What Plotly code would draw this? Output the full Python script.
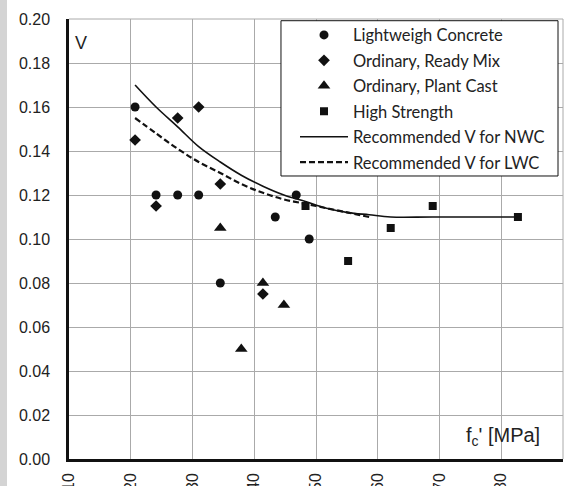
import plotly.graph_objects as go

# Data (f'c in MPa, V)
lw_x = [20.7, 24.1, 27.6, 31.0, 34.5, 43.4, 46.8, 48.9]
lw_y = [0.160, 0.120, 0.120, 0.120, 0.080, 0.110, 0.120, 0.100]

rm_x = [20.7, 24.1, 27.6, 31.0, 34.5, 41.4]
rm_y = [0.145, 0.115, 0.155, 0.160, 0.125, 0.075]

pc_x = [34.5, 37.9, 41.4, 44.8]
pc_y = [0.105, 0.050, 0.080, 0.070]

hs_x = [48.3, 55.2, 62.1, 68.9, 82.7]
hs_y = [0.115, 0.090, 0.105, 0.115, 0.110]

nwc_x = [20.7, 24.1, 27.6, 31.0, 34.5, 37.9, 41.4, 44.8, 48.3, 51.7, 55.2, 58.6, 62.1, 68.9, 82.7]
nwc_y = [0.170, 0.160, 0.151, 0.142, 0.135, 0.129, 0.124, 0.120, 0.117, 0.114, 0.112, 0.111, 0.110, 0.110, 0.110]

lwc_x = [20.7, 24.1, 27.6, 31.0, 34.5, 37.9, 41.4, 44.8, 48.3, 51.7, 55.2, 58.6]
lwc_y = [0.155, 0.148, 0.141, 0.135, 0.130, 0.125, 0.121, 0.118, 0.116, 0.114, 0.112, 0.110]

x_ticks = [10, 20, 30, 40, 50, 60, 70, 80, 90]
y_ticks = [0.00, 0.02, 0.04, 0.06, 0.08, 0.10, 0.12, 0.14, 0.16, 0.18, 0.20]

INK = "#111111"

fig = go.Figure()
fig.add_trace(go.Scatter(x=lw_x, y=lw_y, mode="markers", name="Lightweigh Concrete", legendgroup="a",
                         marker=dict(symbol="circle", size=9, color=INK)))
fig.add_trace(go.Scatter(x=rm_x, y=rm_y, mode="markers", name="Ordinary, Ready Mix", legendgroup="b",
                         marker=dict(symbol="diamond", size=9, color=INK)))
fig.add_trace(go.Scatter(x=pc_x, y=pc_y, mode="markers", name="Ordinary, Plant Cast", legendgroup="c",
                         marker=dict(symbol="triangle-up", size=11, color=INK)))
fig.add_trace(go.Scatter(x=hs_x, y=hs_y, mode="markers", name="High Strength", legendgroup="d",
                         marker=dict(symbol="square", size=8, color=INK)))
fig.add_trace(go.Scatter(x=nwc_x, y=nwc_y, mode="lines", name="Recommended V for NWC", legendgroup="e",
                         line=dict(color=INK, width=1.6, shape="spline")))
fig.add_trace(go.Scatter(x=lwc_x, y=lwc_y, mode="lines", name="Recommended V for LWC", legendgroup="f",
                         line=dict(color=INK, width=2.2, dash="6px,3px", shape="spline")))

fig.update_layout(
    width=571, height=486,
    margin=dict(l=69, r=8, t=19, b=27, autoexpand=False),
    paper_bgcolor="white", plot_bgcolor="white",
    font=dict(family="Liberation Sans, Arial, sans-serif", color="#222222"),
    showlegend=True,
    legend=dict(x=0.4575, y=1.003, xanchor="left", yanchor="top",
                bgcolor="rgba(0,0,0,0)", borderwidth=0,
                font=dict(family="Lato, sans-serif", size=16.5, color="#222222"),
                tracegroupgap=1, itemwidth=48),
    xaxis=dict(range=[10, 90], tickvals=x_ticks, ticktext=[str(v) for v in x_ticks],
               tickangle=-90, showgrid=True, gridcolor="#aaaaaa", gridwidth=1,
               showline=True, linecolor=INK, linewidth=2.5, zeroline=False,
               ticks="", ticklabelstandoff=5, automargin=False,
               tickfont=dict(size=16, color="#222222")),
    yaxis=dict(range=[0, 0.2], tickvals=y_ticks, tickformat=".2f",
               showgrid=True, gridcolor="#aaaaaa", gridwidth=1,
               showline=True, linecolor=INK, linewidth=2.5, zeroline=False,
               ticks="", ticklabelstandoff=13, automargin=False,
               tickfont=dict(size=16, color="#222222")),
    shapes=[
        dict(type="rect", xref="paper", yref="paper", x0=-0.1397, x1=-0.1255,
             y0=-0.07, y1=1.05, fillcolor="#d4d4d4", line=dict(width=0), layer="below"),
        dict(type="line", xref="paper", yref="paper", x0=1, x1=1, y0=0, y1=1,
             line=dict(color="#aaaaaa", width=1)),
        dict(type="line", xref="paper", yref="paper", x0=0, x1=1, y0=1, y1=1,
             line=dict(color="#aaaaaa", width=1)),
        dict(type="rect", xref="paper", yref="paper", x0=0.4291, x1=0.9899,
             y0=0.6432, y1=0.9961, fillcolor="white", line=dict(color=INK, width=1),
             layer="above"),
    ],
    annotations=[
        dict(text="V", xref="paper", yref="paper", x=0.009, y=0.945,
             xanchor="left", yanchor="middle", showarrow=False,
             font=dict(size=18, color="#222222")),
        dict(text="f<sub>c</sub>' [MPa]", xref="paper", yref="paper", x=0.9575, y=0.052,
             xanchor="right", yanchor="middle", showarrow=False,
             font=dict(size=20, color="#222222")),
    ],
)

fig.write_html("out.html")
